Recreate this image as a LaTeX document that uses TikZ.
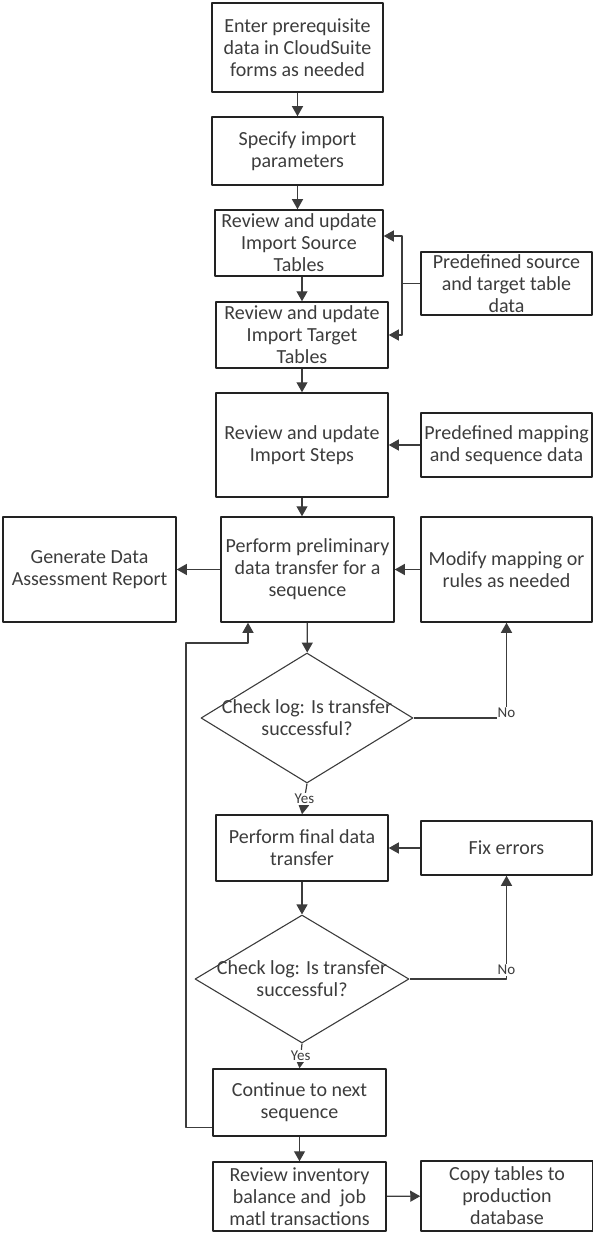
\documentclass[tikz,border=0pt]{standalone}
\usepackage{fontspec}
\setmainfont{Carlito}
\usetikzlibrary{arrows.meta,shapes.geometric}
\definecolor{ink}{HTML}{3C3C3C}
\definecolor{edge}{HTML}{222222}
\begin{document}
\begin{tikzpicture}[x=1pt,y=-1pt,line join=round,
	>={Triangle[length=10pt,width=11pt]},
	box/.style={draw=edge,line width=1.5pt,align=center,inner sep=0pt,text=ink,
		font=\fontsize{20}{22}\selectfont},
	decision/.style={draw=ink,line width=1.1pt,diamond,inner sep=0pt},
	qtext/.style={align=center,inner sep=0pt,text=ink,font=\fontsize{20}{22}\selectfont},
	flow/.style={draw=ink,line width=1.2pt,->},
	tag/.style={fill=white,inner sep=1pt,text=ink,font=\fontsize{15}{16}\selectfont}]
	\useasboundingbox (0,0) rectangle (593,1233);
	\node[box,minimum width=171pt,minimum height=89pt] (enter) at (297.5,47.5) {Enter prerequisite\\data in CloudSuite\\forms as needed};
	\node[box,minimum width=171pt,minimum height=68pt] (params) at (297.5,151) {Specify import\\parameters};
	\node[box,minimum width=168pt,minimum height=66pt] (source) at (299,243) {Review and update\\Import Source\\Tables};
	\node[box,minimum width=172pt,minimum height=66pt] (target) at (302,335) {Review and update\\Import Target\\Tables};
	\node[box,minimum width=171pt,minimum height=63pt] (tabdata) at (506.5,283.5) {Predefined source\\and target table\\data};
	\node[box,minimum width=172pt,minimum height=104pt] (steps) at (302,445) {Review and update\\Import Steps};
	\node[box,minimum width=171pt,minimum height=64pt] (mapdata) at (506.5,445) {Predefined mapping\\and sequence data};
	\node[box,minimum width=173pt,minimum height=105pt] (prelim) at (307.5,569.5) {Perform preliminary\\data transfer for a\\sequence};
	\node[box,minimum width=173pt,minimum height=105pt] (report) at (89.5,569.5) {Generate Data\\Assessment Report};
	\node[box,minimum width=171pt,minimum height=105pt] (modify) at (506.5,569.5) {Modify mapping or\\rules as needed};
	\node[decision,minimum width=212pt,minimum height=130pt] (check1) at (307,718) {};
	\node[qtext] (q1) at (check1) {Check log: Is transfer\\successful?};
	\node[box,minimum width=172pt,minimum height=66pt] (final) at (302,848) {Perform final data\\transfer};
	\node[box,minimum width=171pt,minimum height=54pt] (fix) at (506.5,848) {Fix errors};
	\node[decision,minimum width=214pt,minimum height=128pt] (check2) at (302,979) {};
	\node[qtext] (q2) at (check2) {Check log: Is transfer\\successful?};
	\node[box,minimum width=173pt,minimum height=67pt] (next) at (299.5,1102.5) {Continue to next\\sequence};
	\node[box,minimum width=173pt,minimum height=69pt] (inv) at (299.5,1196.5) {Review inventory\\balance and~~job\\matl transactions};
	\node[box,minimum width=172pt,minimum height=70pt] (copy) at (507,1196) {Copy tables to\\production\\database};
	\coordinate (split) at (402,283.5);
	\coordinate (back) at (186,643);
	\draw[flow] (enter) -- (params);
	\draw[flow] (params.south) -- (params.south |- source.north);
	\draw[flow] (source.south -| target) -- (target.north);
	\draw[flow] (target) -- (steps);
	\draw[flow] (steps.south) -- (steps.south |- prelim.north);
	\draw[ink,line width=1.2pt] (tabdata.west) -- (split);
	\draw[flow] (split) |- ([yshift=7pt]source.east);
	\draw[flow] (split) |- (target.east);
	\draw[flow] (mapdata) -- (steps);
	\draw[flow] (prelim) -- (report);
	\draw[flow] (modify) -- (prelim);
	\draw[flow] (prelim) -- (check1);
	\draw[flow] (check1.east) -| (modify.south) node[tag,pos=0.5,yshift=5pt] {No};
	\draw[flow] (check1.south) -- (final.north) node[tag,midway] {Yes};
	\draw[flow] (fix) -- (final);
	\draw[flow] (final) -- (check2);
	\draw[flow] (check2.east) -| (fix.south) node[tag,pos=0.5,yshift=9pt] {No};
	\draw[flow] (check2.south) -- (next.north) node[tag,midway] {Yes};
	\draw[flow] (next) -- (inv);
	\draw[flow] (inv) -- (copy);
	\draw[flow] ([yshift=-25pt]next.west) -| (back) -| ([xshift=-59.5pt]prelim.south);
\end{tikzpicture}
\end{document}
